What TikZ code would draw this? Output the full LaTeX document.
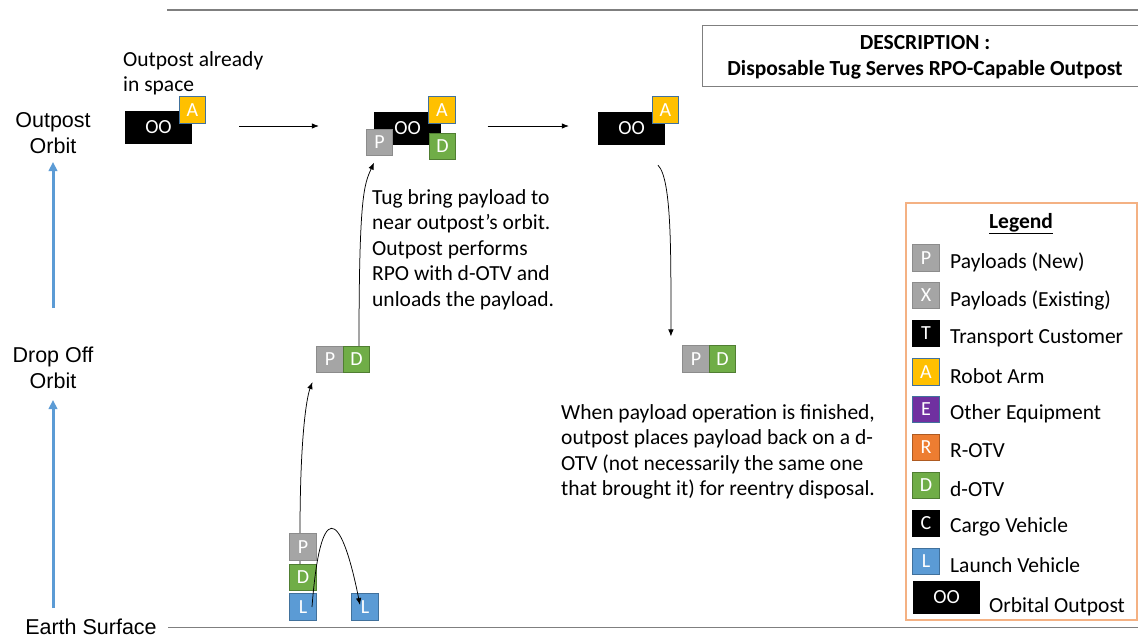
\documentclass[tikz,border=0pt]{standalone}
\usepackage{fontspec}
\setmainfont{Carlito}
\newfontfamily\arialf{Liberation Sans}
\usetikzlibrary{arrows.meta,calc}
\pgfdeclarelayer{bg}
\pgfsetlayers{bg,main}

\definecolor{cgray}{HTML}{A5A5A5}
\definecolor{cgrayd}{HTML}{8C8C8C}
\definecolor{cgreen}{HTML}{70AD47}
\definecolor{cgreend}{HTML}{507E32}
\definecolor{cblue}{HTML}{5B9BD5}
\definecolor{cblued}{HTML}{41719C}
\definecolor{cgold}{HTML}{FFC000}
\definecolor{cpurple}{HTML}{7030A0}
\definecolor{corange}{HTML}{ED7D31}
\definecolor{corangd}{HTML}{AE5A21}
\definecolor{cpeach}{HTML}{F4B183}
\definecolor{crule}{HTML}{7F7F7F}

\tikzset{
  tile/.style={minimum width=26.5pt, minimum height=26.5pt, inner sep=0pt,
    text=white, font=\fontsize{20}{20}\selectfont, line width=0.7pt},
  pbox/.style={tile, fill=cgray, draw=cgrayd},
  dbox/.style={tile, fill=cgreen, draw=cgreend},
  lbox/.style={tile, fill=cblue, draw=cblued},
  abox/.style={tile, fill=cgold, draw=cblued},
  ebox/.style={tile, fill=cpurple, draw=cblued},
  rbox/.style={tile, fill=corange, draw=corangd},
  kbox/.style={tile, fill=black, draw=black},
  oobox/.style={minimum width=67pt, minimum height=33pt, inner sep=0pt,
    fill=black, text=white, font=\fontsize{20}{20}\selectfont},
  body/.style={inner sep=0pt, font=\fontsize{21.5}{25.5}\selectfont, align=left},
  axislabel/.style={inner sep=0pt, font=\arialf\fontsize{21.5}{26}\selectfont, align=center},
  legtext/.style={inner sep=0pt, anchor=west, font=\fontsize{21.5}{21.5}\selectfont},
  flow/.style={-{Latex[length=7pt,width=5.5pt]}, line width=0.75pt},
  axis/.style={-{Triangle[length=9pt,width=8.5pt]}, line width=3pt, draw=cblue},
  rulel/.style={draw=crule, line width=1.3pt},
}

\begin{document}
\begin{tikzpicture}[x=1pt,y=-1pt]
\useasboundingbox (0,0) rectangle (1138,637);

% horizontal frame rules
\draw[rulel] (167,10) -- (1138,10);
\draw[rulel] (168,627.5) -- (1138,627.5);

% altitude axis
\node[axislabel] (lab1) at (53,133) {Outpost\\Orbit};
\node[axislabel] (lab2) at (53,368) {Drop Off\\Orbit};
\node[axislabel] (lab3) at (91,626.5) {Earth Surface};
\draw[axis] ($(lab2)+(0,-60)$) -- ($(lab1)+(0,29)$);
\draw[axis] ($(lab3)+(-38,-18.5)$) -- ($(lab2)+(0,32)$);

% title box
\node[draw=crule, line width=1pt, minimum width=446pt, minimum height=61pt,
      inner sep=0pt] (desc) at (925,55.5) {};
\node[font=\bfseries\fontsize{21.5}{26}\selectfont, align=center, inner sep=0pt]
  (desct) at (925,57.5) {DESCRIPTION :\\Disposable Tug Serves RPO-Capable Outpost};

% stage 1: outpost alone
\node[body, anchor=west] (t1) at (123,73.5) {Outpost already\\in space};
\node[oobox] (oo1) at (158.5,127) {OO};
\node[abox] (a1) at (192.5,110) {A};

% stage 2: outpost with tug and payload
\node[oobox] (oo2) at (407.5,128) {OO};
\node[abox] (a2) at (442,110) {A};
\node[pbox] (p2) at (379.5,142.5) {P};
\node[dbox] (d2) at (442.5,146.5) {D};

% stage 3: outpost after unloading
\node[oobox] (oo3) at (631.5,128.5) {OO};
\node[abox] (a3) at (665.5,110) {A};

\draw[flow] ($(a1.east)+(33,16)$) -- ($(oo2.west)+(-55,-2)$);
\draw[flow] ($(a2.east)+(32,16)$) -- ($(oo3.west)+(-29,-2.5)$);

% drop-off orbit tugs
\node[pbox] (pm) at (330,359.5) {P};
\node[dbox] (dm) at (356.5,359.5) {D};
\node[pbox] (pr) at (696,359) {P};
\node[dbox] (dr) at (722.5,359) {D};

% launch stack on the ground
\node[pbox] (ps) at (303,547) {P};
\node[dbox] (ds) at (303,577.5) {D};
\node[lbox] (ls) at (303,607) {L};
\node[lbox] (l2) at (365,607) {L};

\begin{pgfonlayer}{bg}
  \draw[flow] ($(ds.north)+(-3,0)$) -- ($(ps.north)+(-3,0)$)
    .. controls +(0,-95) and +(-6,16) .. ($(pm.south west)+(-4,9)$);
\end{pgfonlayer}
\draw[flow] ($(ls)+(9,0)$) .. controls (320,502) and (340,505) .. ($(l2)+(-5,-2)$);

\draw[flow] ($(dm.north)+(2.5,0)$) .. controls +(0,-150) and +(-10,22) .. ($(p2.south)+(-5.5,6.5)$);
\draw[flow] ($(oo3.south)+(26.5,20)$) .. controls +(14,14) and +(0,-80) .. ($(pr.north west)+(-11.5,-9)$);

\node[body, anchor=west] (t2) at (372,249.5) {Tug bring payload to\\near outpost’s orbit.\\Outpost performs\\RPO with d-OTV and\\unloads the payload.};
\node[body, anchor=west] (t3) at (561,452) {When payload operation is finished,\\outpost places payload back on a d-\\OTV (not necessarily the same one\\that brought it) for reentry disposal.};

% legend
\draw[draw=cpeach, line width=1.2pt] (906,203) rectangle (1137,620);
\node[inner sep=0pt, font=\bfseries\fontsize{21.5}{21.5}\selectfont] (legt) at (1021,223.5) {\underline{Legend}};
\node[pbox] (kp) at (926,258) {P};
\node[pbox] (kx) at (926,295.5) {X};
\node[kbox] (kt) at (926,333.5) {T};
\node[abox] (ka) at (926,372) {A};
\node[ebox] (ke) at (926,409.5) {E};
\node[rbox] (kr) at (926,447.5) {R};
\node[dbox] (kd) at (926,485.5) {D};
\node[kbox] (kc) at (926,523.5) {C};
\node[lbox] (kl) at (926,561.5) {L};
\node[oobox] (koo) at (946.5,597.5) {OO};
\node[legtext] at (950,262.5) {Payloads (New)};
\node[legtext] at (950,300) {Payloads (Existing)};
\node[legtext] at (950,338) {Transport Customer};
\node[legtext] at (950,376.5) {Robot Arm};
\node[legtext] at (950,413.5) {Other Equipment};
\node[legtext] at (950,451) {R-OTV};
\node[legtext] at (950,489.5) {d-OTV};
\node[legtext] at (950,527) {Cargo Vehicle};
\node[legtext] at (950,565) {Launch Vehicle};
\node[legtext] at (989,607) {Orbital Outpost};
\end{tikzpicture}
\end{document}
